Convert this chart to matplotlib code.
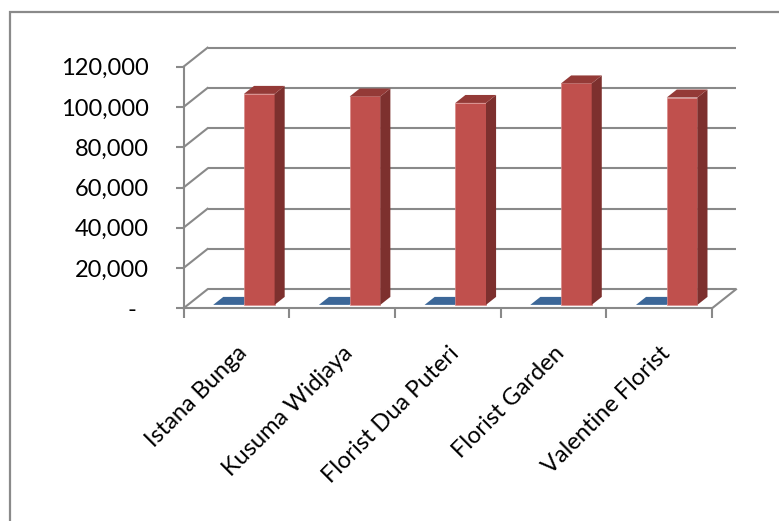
import matplotlib
matplotlib.use("Agg")
import matplotlib.pyplot as plt
from matplotlib.patches import Rectangle, Polygon
from matplotlib.transforms import offset_copy

# ---- data ----
categories = ["Istana Bunga", "Kusuma Widjaya", "Florist Dua Puteri", "Florist Garden", "Valentine Florist"]
series_blue = [0, 0, 0, 0, 0]
series_red = [104800, 103500, 100300, 110000, 103000]
y_ticks = [0, 20000, 40000, 60000, 80000, 100000, 120000]
y_tick_labels = ["-  ", "20,000", "40,000", "60,000", "80,000", "100,000", "120,000"]

# ---- style / geometry ----
W, H = 779, 521
FONT = ["Lato", "DejaVu Sans"]
FS = 17
GRID_C = "#898989"
LW = 1.5
x0px, x5px = 183.5, 712.0
y0px, ytpx = 308.3, 66.7
DXPX, DYPX = 24.0, 19.0
catpx = (x5px - x0px) / len(categories)
pxper = (y0px - ytpx) / y_ticks[-1]
dxc = DXPX / catpx           # depth offset in category units
D = DYPX / pxper             # depth offset in value units
F0, F1 = 0.18, 0.60          # bar depth span (fraction of full depth)
OFF = [0.240, 0.531]         # series offset within category
BW = 0.29
COLS = [dict(front="#4F81BD", side="#2F5486", top="#3C6798"),
        dict(front="#C0504D", side="#7D302E", top="#943A37")]

plt.rcParams["font.family"] = FONT
fig = plt.figure(figsize=(W / 100, H / 100), dpi=100)
top_px = ytpx - DYPX
right_px = x5px + DXPX
ax = fig.add_axes([x0px / W, (H - y0px) / H, (right_px - x0px) / W, (y0px - top_px) / H])
ax.set_xlim(0, len(categories) + dxc)
ax.set_ylim(0, y_ticks[-1] + D)
ax.patch.set_visible(False)

# back wall gridlines and left wall diagonals
for v in y_ticks:
    ax.plot([dxc, len(categories) + dxc], [v + D, v + D], color=GRID_C, lw=LW, zorder=1,
            solid_capstyle="butt", clip_on=False)
    ax.plot([0, dxc], [v, v + D], color=GRID_C, lw=LW, zorder=1, clip_on=False)
# floor right edge
ax.plot([len(categories), len(categories) + dxc], [0, D], color=GRID_C, lw=LW, zorder=1, clip_on=False)

# bars
sdx, sdy = (F1 - F0) * dxc, (F1 - F0) * D
yb = F0 * D
for i in range(len(categories)):
    for s, vals in enumerate([series_blue, series_red]):
        v = vals[i]
        c = COLS[s]
        xl = i + OFF[s] + F0 * dxc
        if v > 0:
            ax.add_patch(Rectangle((xl, yb), BW, v, fc=c["front"], ec="#D98A88", lw=0.5, zorder=3))
            ax.add_patch(Polygon([(xl + BW, yb), (xl + BW + sdx, yb + sdy), (xl + BW + sdx, yb + v + sdy),
                                  (xl + BW, yb + v)], closed=True, fc=c["side"], ec="none", zorder=3))
        ax.add_patch(Polygon([(xl, yb + v), (xl + BW, yb + v), (xl + BW + sdx, yb + v + sdy),
                              (xl + sdx, yb + v + sdy)], closed=True, fc=c["top"], ec="none", zorder=3))

# front axes
for sp in ["top", "right"]:
    ax.spines[sp].set_visible(False)
ax.spines["left"].set_bounds(0, y_ticks[-1])
ax.spines["bottom"].set_bounds(0, len(categories))
for sp in ["left", "bottom"]:
    ax.spines[sp].set_color(GRID_C)
    ax.spines[sp].set_linewidth(LW)
    ax.spines[sp].set_zorder(4)
ax.set_yticks(y_ticks)
ax.set_yticklabels(y_tick_labels)
ax.tick_params(axis="y", length=5.8, width=LW, color=GRID_C, pad=19, labelsize=FS, labelcolor="black")
ax.set_xticks(range(len(categories) + 1))
ax.set_xticklabels([])
ax.tick_params(axis="x", length=7.5, width=LW, color=GRID_C, direction="out")

tr = offset_copy(ax.transData, fig=fig, x=0, y=-34, units="dots")
for i, name in enumerate(categories):
    ax.text(i + 0.5, 0, name, rotation=45, ha="right", va="top", rotation_mode="anchor",
            fontsize=FS, transform=tr, color="black")

# chart area border
fig.patches.append(Rectangle((9.5 / W, -0.1), 2, (H - 11.5) / H + 0.1, transform=fig.transFigure,
                             fill=False, ec="#8A8A8A", lw=1.6))

fig.savefig("out.png", dpi=100)
